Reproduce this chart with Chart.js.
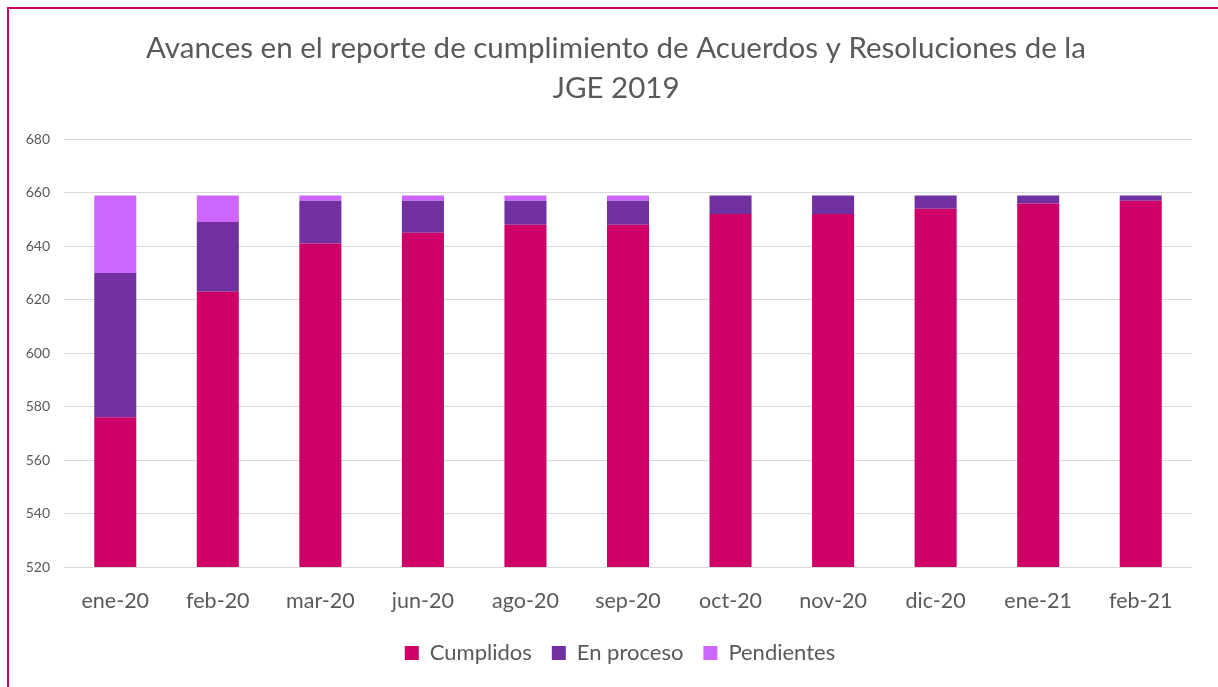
<!DOCTYPE html>
<html lang="es">
<head>
    <meta charset="UTF-8">
    <title>Avances JGE 2019</title>
    <script src="https://cdn.jsdelivr.net/npm/chart.js"></script>
    <style>
        body { margin: 0; background: #fff; }
        #wrap { position: relative; width: 1218px; height: 687px; }
        #frame {
            position: absolute; left: 7px; top: 7px; right: 0; bottom: 0;
            border-top: 2px solid #cc0066; border-left: 2px solid #cc0066;
            pointer-events: none;
        }
    </style>
</head>
<body>
<div id="wrap">
    <canvas id="barChart" width="1218" height="687"></canvas>
    <div id="frame"></div>
</div>
<script>
// months on the x axis
const months = ['ene-20', 'feb-20', 'mar-20', 'jun-20', 'ago-20', 'sep-20', 'oct-20', 'nov-20', 'dic-20', 'ene-21', 'feb-21'];

// stacked series
const cumplidos  = [576, 623, 641, 645, 648, 648, 652, 652, 654, 656, 657];
const enProceso  = [54, 26, 16, 12, 9, 9, 7, 7, 5, 3, 2];
const pendientes = [29, 10, 2, 2, 2, 2, 0, 0, 0, 0, 0];

const textColor = '#595959';
const fontFamily = 'Lato, "Open Sans", sans-serif';

// title and legend in the original sit a bit right of the canvas centre
const shiftBoxes = {
    id: 'shiftBoxes',
    afterLayout(chart) {
        chart.legend.left += 19;
        chart.legend.right += 19;
        if (chart.titleBlock) {
            chart.titleBlock.left += 15;
            chart.titleBlock.right += 15;
        }
    }
};

const ctx = document.getElementById('barChart').getContext('2d');
new Chart(ctx, {
    type: 'bar',
    data: {
        labels: months,
        datasets: [
            { label: 'Cumplidos', data: cumplidos, backgroundColor: '#cc0066' },
            { label: 'En proceso', data: enProceso, backgroundColor: '#7030a0' },
            { label: 'Pendientes', data: pendientes, backgroundColor: '#cc66ff' }
        ]
    },
    options: {
        responsive: false,
        animation: false,
        layout: { padding: { left: 10, right: 26, top: 28, bottom: 13 } },
        datasets: {
            bar: { barPercentage: 0.41, categoryPercentage: 1.0, borderWidth: 0 }
        },
        scales: {
            x: {
                stacked: true,
                grid: { display: false, drawTicks: false },
                border: { display: false },
                ticks: { color: textColor, font: { family: fontFamily, size: 21.5 }, padding: 21 },
                afterFit: (scale) => { scale.height = 55; }
            },
            y: {
                stacked: true,
                min: 520,
                max: 680,
                grid: { color: '#d9d9d9', lineWidth: 1, drawTicks: false },
                border: { display: false },
                ticks: { stepSize: 20, color: textColor, font: { family: fontFamily, size: 14 }, padding: 14 },
                afterFit: (scale) => { scale.width = 54; }
            }
        },
        plugins: {
            title: {
                display: true,
                text: ['Avances en el reporte de cumplimiento de Acuerdos y Resoluciones de la', 'JGE 2019'],
                color: textColor,
                font: { family: fontFamily, size: 29.5, weight: 'normal', lineHeight: 1.36 },
                padding: { top: 0, bottom: 31 }
            },
            legend: {
                position: 'bottom',
                labels: {
                    color: textColor,
                    font: { family: fontFamily, size: 22 },
                    boxWidth: 14,
                    boxHeight: 14,
                    padding: 20
                }
            },
            tooltip: { enabled: false }
        }
    },
    plugins: [shiftBoxes]
});
</script>
</body>
</html>
